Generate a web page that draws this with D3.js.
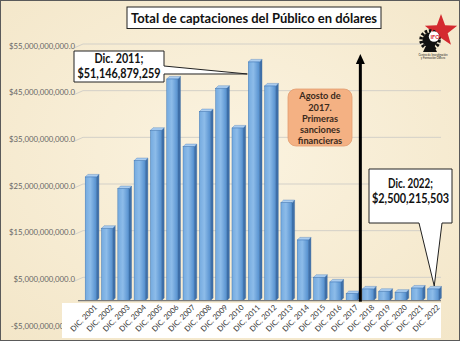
<!DOCTYPE html>
<html><head><meta charset="utf-8">
<script src="https://cdn.jsdelivr.net/npm/d3@7"></script>
<style>html,body{margin:0;padding:0;background:#f6ecd4;overflow:hidden}svg{display:block}</style>
</head><body><svg id="c" width="460" height="341"></svg>
<script>
const categories = ["DIC. 2001","DIC. 2002","DIC. 2003","DIC. 2004","DIC. 2005","DIC. 2006","DIC. 2007","DIC. 2008","DIC. 2009","DIC. 2010","DIC. 2011","DIC. 2012","DIC. 2013","DIC. 2014","DIC. 2015","DIC. 2016","DIC. 2017","DIC. 2018","DIC. 2019","DIC. 2020","DIC. 2021","DIC. 2022"];
const values = [26.5e9,15.5e9,24e9,30e9,36.5e9,47.5e9,33e9,40.5e9,45.5e9,37e9,51146879259,46e9,21e9,13e9,5e9,4e9,1.5e9,2.5e9,2e9,1.8e9,2.7e9,2500215503];
const yTicks = [-5e9,5e9,15e9,25e9,35e9,45e9,55e9];
const titleText = "Total de captaciones del Público en dólares";
const note2017 = ["Agosto de","2017.","Primeras","sanciones","financieras"];
const callout2011 = ["Dic. 2011;","$51,146,879,259"];
const callout2022 = ["Dic. 2022;","$2,500,215,503"];
const logoLines = ["Centro de Investigación","y Formación Obrera"];

const svg = d3.select("#c");
const W = 460, H = 341;
const FONT = "Lato, 'Open Sans', sans-serif";

// background
const defs = svg.append("defs");
const bg = defs.append("radialGradient").attr("id","bg").attr("cx","50%").attr("cy","45%").attr("r","75%");
bg.append("stop").attr("offset","0%").attr("stop-color","#fbf3e0");
bg.append("stop").attr("offset","100%").attr("stop-color","#f3e6c8");
svg.append("rect").attr("width",W).attr("height",H).attr("fill","url(#bg)");
svg.append("rect").attr("x",0.5).attr("y",0.5).attr("width",W-1).attr("height",H-1)
  .attr("fill","none").attr("stroke","#5a5a5a").attr("stroke-width",1);

const x = d3.scaleBand().domain(categories).range([80,444]).paddingInner(0.32).paddingOuter(0.32);
const y = d3.scaleLinear().domain([-5e9,55e9]).range([324,44]);
const y0 = y(0);
const fmt = v => (v<0?"-":"") + "$" + d3.format(",.1f")(Math.abs(v));

// gridlines
const grid = svg.append("g");
yTicks.forEach(t => {
  if (t < 0) return;
  grid.append("path").attr("d",`M74,${y(t)+4}L83,${y(t)}L441,${y(t)}`)
    .attr("fill","none").attr("stroke","#d3d0c8").attr("stroke-width",1);
});
// y labels
svg.append("g").selectAll("text").data(yTicks).join("text")
  .attr("x",75).attr("y",d=>y(d)+2).attr("dy","0.35em").attr("text-anchor","end")
  .attr("font-family",FONT).attr("font-size",7.8).attr("fill","#666").text(fmt);

// bars (3D-like)
const fg = defs.append("linearGradient").attr("id","front").attr("x1","0").attr("x2","1");
fg.append("stop").attr("offset","0%").attr("stop-color","#74aadf");
fg.append("stop").attr("offset","45%").attr("stop-color","#8dbce9");
fg.append("stop").attr("offset","100%").attr("stop-color","#5590cf");
const d = 2.6;
const bars = svg.append("g");
categories.forEach((c,i) => {
  const x0 = x(c), x1 = x0 + x.bandwidth(), yv = y(values[i]);
  const g = bars.append("g");
  g.append("path").attr("d",`M${x1},${yv}L${x1+d},${yv-d}L${x1+d},${y0-d}L${x1},${y0}Z`)
    .attr("fill","#3f70aa").attr("stroke","#35649a").attr("stroke-width",0.4);
  g.append("path").attr("d",`M${x0},${yv}L${x0+d},${yv-d}L${x1+d},${yv-d}L${x1},${yv}Z`)
    .attr("fill","#abcdef").attr("stroke","#4a7fbf").attr("stroke-width",0.4);
  g.append("rect").attr("x",x0).attr("y",yv).attr("width",x.bandwidth()).attr("height",y0-yv)
    .attr("fill","url(#front)").attr("stroke","#4078b6").attr("stroke-width",0.5);
});
// baseline
svg.append("line").attr("x1",78).attr("x2",441).attr("y1",y0).attr("y2",y0)
  .attr("stroke","#7a7a7a").attr("stroke-width",1.2);

// x label box
svg.append("rect").attr("x",62).attr("y",303).attr("width",379).attr("height",35).attr("fill","#ffffff");
svg.append("g").selectAll("text").data(categories).join("text")
  .attr("transform",c=>`translate(${x(c)+x.bandwidth()/2+5},306) rotate(-45)`)
  .attr("text-anchor","end").attr("dy","0.35em")
  .attr("font-family",FONT).attr("font-size",7.6).attr("fill","#333").text(c=>c);

// arrow (Aug 2017)
const ax = (x(categories[16]) + x(categories[17]) + x.bandwidth())/2 + 0.5;
svg.append("line").attr("x1",ax).attr("x2",ax).attr("y1",y0+1).attr("y2",62)
  .attr("stroke","#000").attr("stroke-width",3);
svg.append("path").attr("d",`M${ax},54L${ax-4.5},64L${ax+4.5},64Z`).attr("fill","#000");

// orange note
svg.append("rect").attr("x",288).attr("y",89).attr("width",64).attr("height",57).attr("rx",8)
  .attr("fill","#f4b183").attr("stroke","#e29c6e").attr("stroke-width",0.8);
svg.append("g").selectAll("text").data(note2017).join("text")
  .attr("x",320).attr("y",(t,i)=>96+i*11.3).attr("dy","0.35em").attr("text-anchor","middle")
  .attr("font-family",FONT).attr("font-weight","bold").attr("font-size",9.2).attr("fill","#3b2a1c").text(t=>t);

// callout 2011
const t11x = x(categories[10]) - 1, t11y = y(values[10]) + 12;
svg.append("path").attr("d",`M74,51H164V66L${t11x},${t11y}L164,74V82H74Z`)
  .attr("fill","#fff").attr("stroke","#222").attr("stroke-width",1);
svg.append("text").attr("x",119).attr("y",63).attr("text-anchor","middle")
  .attr("font-family",FONT).attr("font-weight","bold").attr("font-size",12.5).attr("fill","#111")
  .attr("textLength",49).attr("lengthAdjust","spacingAndGlyphs").text(callout2011[0]);
svg.append("text").attr("x",119).attr("y",77.5).attr("text-anchor","middle")
  .attr("font-family",FONT).attr("font-weight","bold").attr("font-size",12.5).attr("fill","#111")
  .attr("textLength",83).attr("lengthAdjust","spacingAndGlyphs").text(callout2011[1]);

// callout 2022
const t22x = x(categories[21]) + x.bandwidth()/2 + 1, t22y = y(values[21]) - 3;
svg.append("path").attr("d",`M369,169H452V223H442L${t22x},${t22y}L419,223H369Z`)
  .attr("fill","#fff").attr("stroke","#222").attr("stroke-width",1);
svg.append("text").attr("x",410.5).attr("y",188).attr("text-anchor","middle")
  .attr("font-family",FONT).attr("font-weight","bold").attr("font-size",12.5).attr("fill","#111")
  .attr("textLength",45).attr("lengthAdjust","spacingAndGlyphs").text(callout2022[0]);
svg.append("text").attr("x",410.5).attr("y",203).attr("text-anchor","middle")
  .attr("font-family",FONT).attr("font-weight","bold").attr("font-size",12.5).attr("fill","#111")
  .attr("textLength",77).attr("lengthAdjust","spacingAndGlyphs").text(callout2022[1]);

// title
svg.append("rect").attr("x",127).attr("y",7).attr("width",254).attr("height",21.5)
  .attr("fill","#fff").attr("stroke","#222").attr("stroke-width",1);
svg.append("text").attr("x",254).attr("y",23).attr("text-anchor","middle")
  .attr("font-family",FONT).attr("font-weight","bold").attr("font-size",14).attr("fill","#111")
  .attr("textLength",246).attr("lengthAdjust","spacingAndGlyphs").text(titleText);

// logo
const lg = svg.append("g");
const star = d3.range(10).map(i => {
  const a = -Math.PI/2 + i*Math.PI/5, r = i%2 ? 7 : 17;
  return [441 + r*Math.cos(a), 31 + r*Math.sin(a)];
});
lg.append("path").attr("d","M"+star.join("L")+"Z").attr("fill","#d42a30");
lg.append("circle").attr("cx",430).attr("cy",40).attr("r",9).attr("fill","none")
  .attr("stroke","#111").attr("stroke-width",3.5).attr("stroke-dasharray","2.5 1.6");
lg.append("circle").attr("cx",430).attr("cy",40).attr("r",7.5).attr("fill","#111");
lg.append("path").attr("d","M426,46L434,46L437,52L423,52Z").attr("fill","#111");
lg.append("circle").attr("cx",434).attr("cy",36.5).attr("r",5.2).attr("fill","#fff");
lg.append("text").attr("x",435).attr("y",38.5).attr("text-anchor","middle").attr("font-family",FONT)
  .attr("font-weight","bold").attr("font-size",5.5).attr("fill","#d42a30").text("IFO");
lg.selectAll("text.s").data(logoLines).join("text").attr("class","s")
  .attr("x",433).attr("y",(t,i)=>55.5+i*3.2).attr("text-anchor","middle").attr("font-family",FONT)
  .attr("font-size",2.8).attr("fill","#222").text(t=>t);
</script></body></html>
